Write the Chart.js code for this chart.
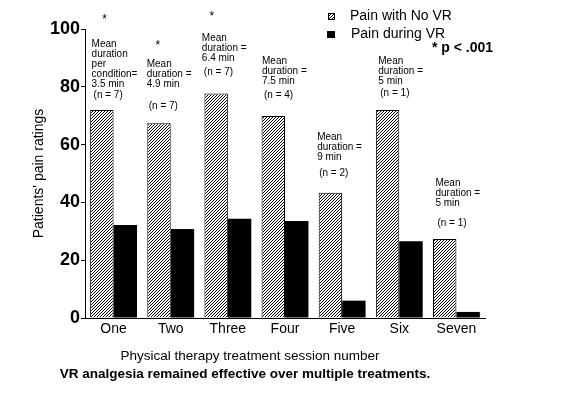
<!DOCTYPE html>
<html>
<head>
<meta charset="utf-8">
<script src="https://cdn.jsdelivr.net/npm/chart.js@4"></script>
<style>
  body { margin: 0; background: #fff; }
  canvas { display: block; }
</style>
</head>
<body>
<canvas id="chart" width="572" height="398"></canvas>
<script>
// données
const sessions = ['One', 'Two', 'Three', 'Four', 'Five', 'Six', 'Seven'];
const painNoVR = [72, 67.4, 77.7, 69.9, 43.3, 72, 27.3];
const painDuringVR = [32.2, 30.8, 34.3, 33.6, 6, 26.6, 2.1];
const yTicks = [0, 20, 40, 60, 80, 100];
const durationNotes = [
    ['Mean', 'duration', 'per', 'condition=', '3.5 min'],
    ['Mean', 'duration =', '4.9 min'],
    ['Mean', 'duration =', '6.4 min'],
    ['Mean', 'duration =', '7.5 min'],
    ['Mean', 'duration =', '9 min'],
    ['Mean', 'duration =', '5 min'],
    ['Mean', 'duration =', '5 min']
];
const patientCounts = [7, 7, 7, 4, 2, 1, 1];
const significant = [true, true, true, false, false, false, false];

// placement des annotations (pixels)
const noteTop = [44, 64, 38, 61, 137, 61, 183];
const noteShift = [0, -2, -4, -1, -3, 1, 1];
const countTop = [95, 106, 72, 95, 173, 93, 223];
const starTop = [20, 46, 17];
const starShift = [-9, -13, -16];

const FONT = '"Liberation Sans", Arial, sans-serif';
const canvas = document.getElementById('chart');
const ctx = canvas.getContext('2d');

// motif hachuré ////
const makeHatch = () => {
    const tile = document.createElement('canvas');
    tile.width = 3;
    tile.height = 3;
    const g = tile.getContext('2d');
    g.fillStyle = '#fff';
    g.fillRect(0, 0, 3, 3);
    g.fillStyle = '#000';
    g.fillRect(2, 0, 1, 1);
    g.fillRect(1, 1, 1, 1);
    g.fillRect(0, 2, 1, 1);
    return ctx.createPattern(tile, 'repeat');
};
const hatch = makeHatch();

const notesPlugin = {
    id: 'notes',
    afterDraw(chart) {
        const c = chart.ctx;
        const x = chart.scales.x;
        c.save();
        c.fillStyle = '#000';
        c.textBaseline = 'middle';

        // annotations au-dessus des barres
        c.font = '10px ' + FONT;
        c.textAlign = 'left';
        sessions.forEach((s, i) => {
            const left = x.getPixelForValue(i) - 22 + noteShift[i];
            durationNotes[i].forEach((line, k) => {
                c.fillText(line, left, noteTop[i] + k * 10);
            });
            c.fillText('(n = ' + patientCounts[i] + ')', left + 2, countTop[i]);
            if (significant[i]) {
                c.font = '12px ' + FONT;
                c.textAlign = 'center';
                c.fillText('*', x.getPixelForValue(i) + starShift[i], starTop[i]);
                c.font = '10px ' + FONT;
                c.textAlign = 'left';
            }
        });

        // légende
        c.fillStyle = hatch;
        c.fillRect(328, 13, 7, 7);
        c.strokeStyle = '#000';
        c.lineWidth = 1;
        c.strokeRect(328.5, 13.5, 6, 6);
        c.fillStyle = '#000';
        c.fillRect(327, 31, 8, 7);
        c.font = '14px ' + FONT;
        c.fillText('Pain with No VR', 350, 16);
        c.fillText('Pain during VR', 351, 34);
        c.font = 'bold 14px ' + FONT;
        c.fillText('* p < .001', 432, 48);

        // titres du bas
        c.textAlign = 'center';
        c.font = '13.5px ' + FONT;
        c.fillText('Physical therapy treatment session number', 250, 356);
        c.font = 'bold 13.5px ' + FONT;
        c.fillText('VR analgesia remained effective over multiple treatments.', 245, 374);
        c.restore();
    }
};

new Chart(canvas, {
    type: 'bar',
    data: {
        labels: sessions,
        datasets: [
            {
                label: 'Pain with No VR',
                data: painNoVR,
                backgroundColor: hatch,
                borderColor: '#000',
                borderWidth: 1
            },
            {
                label: 'Pain during VR',
                data: painDuringVR,
                backgroundColor: '#000',
                borderWidth: 0
            }
        ]
    },
    options: {
        responsive: false,
        devicePixelRatio: 1,
        animation: false,
        layout: { padding: { left: 0, top: 29, right: 87, bottom: 0 } },
        datasets: { bar: { categoryPercentage: 0.82, barPercentage: 1 } },
        plugins: {
            legend: { display: false },
            tooltip: { enabled: false }
        },
        scales: {
            x: {
                grid: { display: false, drawTicks: false },
                border: { display: true, color: '#000', width: 1 },
                ticks: { color: '#000', padding: 3, font: { family: FONT, size: 14 } },
                afterFit: (scale) => { scale.height = 80; }
            },
            y: {
                min: 0,
                max: 100,
                afterBuildTicks: (scale) => { scale.ticks = yTicks.map(v => ({ value: v })); },
                grid: { drawOnChartArea: false, drawTicks: true, tickLength: 4, color: '#000' },
                border: { display: true, color: '#000', width: 1 },
                ticks: { color: '#000', padding: 1, font: { family: FONT, size: 18, weight: 'bold' } },
                title: {
                    display: true,
                    text: "Patients' pain ratings",
                    color: '#000',
                    font: { family: FONT, size: 14 },
                    padding: { top: 31, bottom: 0 }
                },
                afterFit: (scale) => { scale.width = 85; }
            }
        }
    },
    plugins: [notesPlugin]
});
</script>
</body>
</html>
